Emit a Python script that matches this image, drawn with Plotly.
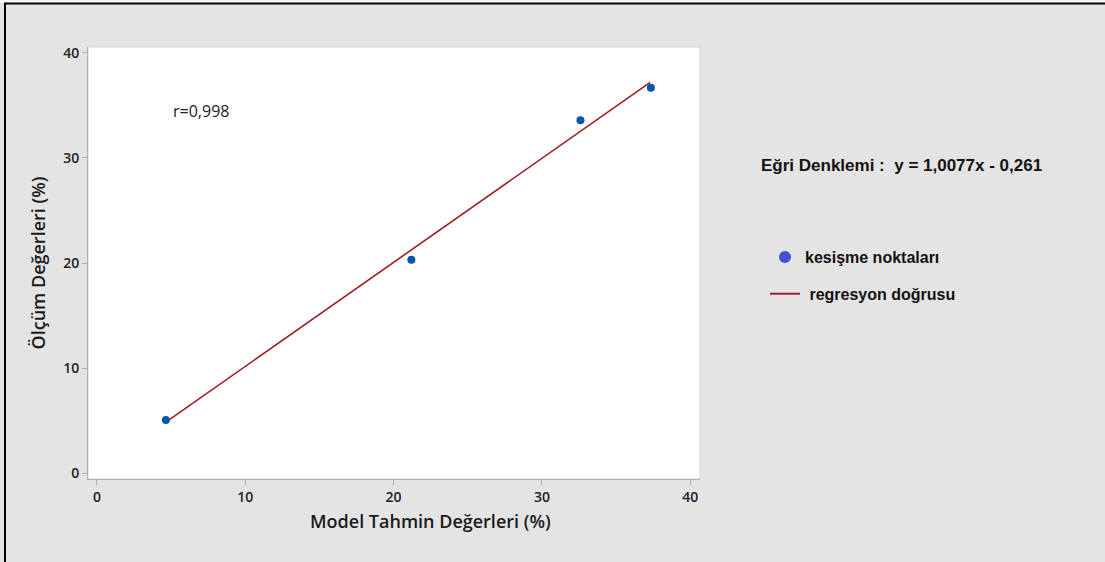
import plotly.graph_objects as go

# Data
model_pred = [4.65, 21.2, 32.6, 37.35]
measured = [5.05, 20.3, 33.6, 36.7]
reg_x = [4.65, 37.3]
reg_y = [4.85, 37.2]
x_ticks = [0, 10, 20, 30, 40]
y_ticks = [0, 10, 20, 30, 40]

W, H = 1105, 562
L, R, T, B = 88, 700, 47, 479
pw, ph = R - L, B - T


def px(x):
    return (x - L) / pw


def py(y):
    return (B - y) / ph


fig = go.Figure()
fig.add_trace(go.Scatter(x=reg_x, y=reg_y, mode="lines",
                         line=dict(color="#9a1f22", width=1.6),
                         showlegend=False, hoverinfo="skip"))
fig.add_trace(go.Scatter(x=model_pred, y=measured, mode="markers",
                         marker=dict(color="#0a56a6", size=8),
                         showlegend=False))
# legend entries
fig.add_trace(go.Scatter(x=[None], y=[None], mode="markers",
                         marker=dict(color="#4150d6", size=12),
                         name="kesişme noktaları", legendgroup="a"))
fig.add_trace(go.Scatter(x=[None], y=[None], mode="lines",
                         line=dict(color="#9a1f30", width=2),
                         name=" regresyon doğrusu", legendgroup="b"))

axis_common = dict(showgrid=False, zeroline=False, showline=True,
                   linecolor="#b0b0b0", linewidth=1, ticks="outside",
                   ticklen=5, tickcolor="#b0b0b0",
                   tickfont=dict(family="Open Sans", size=14, color="#222222",
                                 weight=600),
                   mirror=False)

fig.update_layout(
    width=W, height=H,
    margin=dict(l=L, r=W - R, t=T, b=H - B),
    paper_bgcolor="#e4e4e4",
    plot_bgcolor="white",
    xaxis=dict(range=[-0.6, 40.66], tickvals=x_ticks, **axis_common),
    yaxis=dict(range=[-0.57, 40.57], tickvals=y_ticks,
               title=dict(text="Ölçüm Değerleri (%)", standoff=12,
                          font=dict(family="Open Sans", size=18, color="#1a1a1a",
                                    weight=600)),
               **axis_common),
    legend=dict(x=px(765), y=py(240), xanchor="left", yanchor="top",
                bgcolor="rgba(0,0,0,0)",
                font=dict(family="Liberation Sans", size=16, color="#111111",
                          weight="bold"),
                tracegroupgap=13, itemwidth=30),
    showlegend=True,
    annotations=[
        dict(x=5.0, y=34.5, xref="x", yref="y", text="r=0,998",
             showarrow=False, xanchor="left",
             font=dict(family="Open Sans", size=16, color="#222222")),
        dict(x=px(759), y=py(166), xref="paper", yref="paper",
             text="<b>Eğri Denklemi :  y = 1,0077x - 0,261</b>",
             showarrow=False, xanchor="left", yanchor="middle",
             font=dict(family="Liberation Sans", size=17, color="#111111")),
        dict(x=px(430), y=py(521), xref="paper", yref="paper",
             text="Model Tahmin Değerleri (%)",
             showarrow=False, xanchor="center", yanchor="middle",
             font=dict(family="Open Sans", size=18, color="#1a1a1a", weight=600)),
    ],
    shapes=[
        # plot frame (light)
        dict(type="rect", xref="paper", yref="paper", x0=0, y0=0, x1=1, y1=1,
             line=dict(color="#d4d4d4", width=1), layer="below"),
        # light strip above the top border
        dict(type="rect", xref="paper", yref="paper", x0=px(0), x1=px(W),
             y0=py(3), y1=py(0), fillcolor="#f4f4f4", line=dict(width=0)),
        # black border lines (left and top)
        dict(type="line", xref="paper", yref="paper", x0=px(5), x1=px(5),
             y0=py(3.5), y1=py(H), line=dict(color="black", width=2)),
        dict(type="line", xref="paper", yref="paper", x0=px(4), x1=px(W),
             y0=py(3.5), y1=py(3.5), line=dict(color="black", width=2)),
    ],
)

fig.write_html("out.html", config={"displayModeBar": False},
               post_script="document.body.style.margin='0px';")
